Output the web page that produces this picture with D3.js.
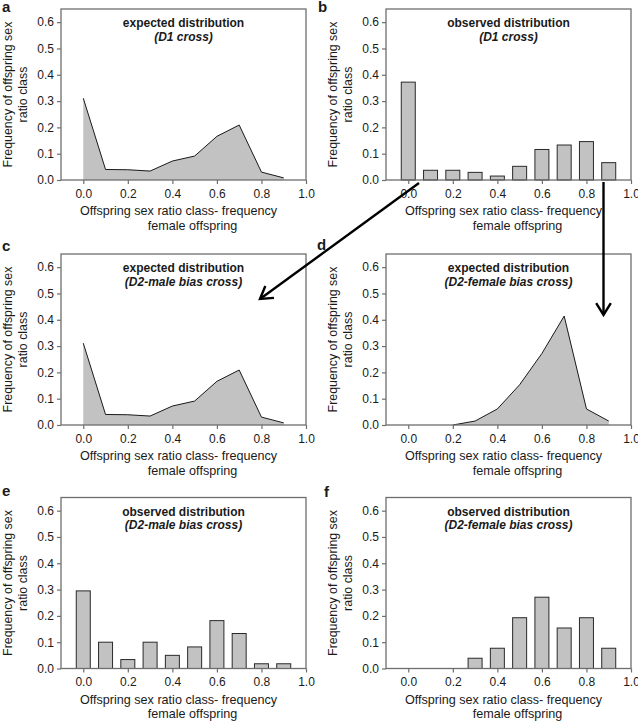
<!DOCTYPE html>
<html>
<head>
<meta charset="utf-8">
<script src="https://cdn.jsdelivr.net/npm/d3@7"></script>
<style>
  body { margin: 0; background: white; }
  text { font-family: "Liberation Sans", Arial, sans-serif; fill: #1a1a1a; }
</style>
</head>
<body>
<script>

// sex ratio classes (frequency of female offspring)
const classes = [0.0, 0.1, 0.2, 0.3, 0.4, 0.5, 0.6, 0.7, 0.8, 0.9];

// a - expected, D1 cross
const expD1 = [0.311, 0.040, 0.039, 0.034, 0.072, 0.091, 0.166, 0.209, 0.030, 0.008];
// b - observed, D1 cross
const obsD1 = [0.372, 0.037, 0.037, 0.029, 0.015, 0.052, 0.116, 0.133, 0.146, 0.066];
// c - expected, D2 male bias cross
const expD2male = [0.311, 0.040, 0.039, 0.034, 0.072, 0.091, 0.166, 0.209, 0.030, 0.008];
// d - expected, D2 female bias cross (nothing below 0.2)
const expD2female = [null, null, 0.0, 0.015, 0.061, 0.153, 0.272, 0.414, 0.061, 0.015];
// e - observed, D2 male bias cross
const obsD2male = [0.295, 0.100, 0.034, 0.100, 0.050, 0.082, 0.182, 0.133, 0.018, 0.018];
// f - observed, D2 female bias cross
const obsD2female = [0, 0, 0, 0.039, 0.077, 0.193, 0.271, 0.154, 0.193, 0.077];

const xTicks = [0.0, 0.2, 0.4, 0.6, 0.8, 1.0];
const yTicks = [0.0, 0.1, 0.2, 0.3, 0.4, 0.5, 0.6];

const xTitle = ["Offspring sex ratio class- frequency", "female offspring"];
const yTitle = ["Frequency of offspring sex", "ratio class"];

const W = 638, H = 721;
const pw = 245, ph = 171;   // plot frame size

const svg = d3.select("body").append("svg").attr("width", W).attr("height", H);

const x = d3.scaleLinear().domain([-0.1, 1.0]).range([0, pw]);
const y = d3.scaleLinear().domain([0, 0.65]).range([ph, 0]);

const panels = [
  {letter: "a", lx: 2,   ly: 11.5, fx: 61,  fy: 9,     kind: "area", vals: expD1,       t1: "expected distribution", t2: "(D1 cross)"},
  {letter: "b", lx: 318, ly: 11.5, fx: 386, fy: 9,     kind: "bar",  vals: obsD1,       t1: "observed distribution", t2: "(D1 cross)"},
  {letter: "c", lx: 2,   ly: 251,  fx: 61,  fy: 254,   kind: "area", vals: expD2male,   t1: "expected distribution", t2: "(D2-male bias cross)"},
  {letter: "d", lx: 317, ly: 250,  fx: 386, fy: 254,   kind: "area", vals: expD2female, t1: "expected distribution", t2: "(D2-female bias cross)"},
  {letter: "e", lx: 2,   ly: 496,  fx: 61,  fy: 497.5, kind: "bar",  vals: obsD2male,   t1: "observed distribution", t2: "(D2-male bias cross)"},
  {letter: "f", lx: 324, ly: 497,  fx: 386, fy: 497.5, kind: "bar",  vals: obsD2female, t1: "observed distribution", t2: "(D2-female bias cross)"}
];

panels.forEach(p => {
  const data = classes.map((c, i) => ({c: c, v: p.vals[i]}));

  svg.append("text")
    .attr("x", p.lx).attr("y", p.ly)
    .attr("font-size", 15).attr("font-weight", "bold")
    .text(p.letter);

  const g = svg.append("g").attr("transform", `translate(${p.fx},${p.fy})`);

  if (p.kind == "area") {
    const pts = data.filter(d => d.v != null);
    g.append("path")
      .datum(pts)
      .attr("fill", "#c2c2c2")
      .attr("d", d3.area().x(d => x(d.c)).y0(y(0)).y1(d => y(d.v)));
    g.append("path")
      .datum(pts)
      .attr("fill", "none")
      .attr("stroke", "#1a1a1a")
      .attr("stroke-width", 1)
      .attr("d", d3.line().x(d => x(d.c)).y(d => y(d.v)));
  } else {
    const bw = 14;
    g.selectAll("rect.bar")
      .data(data.filter(d => d.v > 0))
      .enter().append("rect")
      .attr("class", "bar")
      .attr("x", d => x(d.c) - bw / 2)
      .attr("y", d => y(d.v))
      .attr("width", bw)
      .attr("height", d => y(0) - y(d.v))
      .attr("fill", "#c2c2c2")
      .attr("stroke", "#2a2a2a")
      .attr("stroke-width", 1);
  }

  // frame
  g.append("rect")
    .attr("width", pw).attr("height", ph)
    .attr("fill", "none")
    .attr("stroke", "#6e6e6e")
    .attr("stroke-width", 1.3);

  // axes
  const ya = g.append("g")
    .call(d3.axisLeft(y).tickValues(yTicks).tickSize(4).tickPadding(3).tickFormat(d3.format(".1f")));
  const xa = g.append("g")
    .attr("transform", `translate(0,${ph})`)
    .call(d3.axisBottom(x).tickValues(xTicks).tickSize(4).tickPadding(5).tickFormat(d3.format(".1f")));
  [ya, xa].forEach(a => {
    a.select(".domain").remove();
    a.selectAll(".tick line").attr("stroke", "#6e6e6e").attr("stroke-width", 1.2);
    a.selectAll(".tick text").attr("font-size", 12).attr("fill", "#222")
      .attr("font-family", '"Liberation Sans", Arial, sans-serif');
  });

  // axis titles
  g.append("text")
    .attr("x", pw / 2 - 5).attr("y", ph + 35)
    .attr("text-anchor", "middle").attr("font-size", 12.6)
    .text(xTitle[0]);
  g.append("text")
    .attr("x", pw / 2 + 9).attr("y", ph + 49.5)
    .attr("text-anchor", "middle").attr("font-size", 12.6)
    .text(xTitle[1]);

  yTitle.forEach((t, i) => {
    g.append("text")
      .attr("transform", `translate(${i == 0 ? -49.5 : -34},${ph / 2}) rotate(-90)`)
      .attr("text-anchor", "middle").attr("font-size", 12.4)
      .text(t);
  });

  // panel title
  g.append("text")
    .attr("x", pw / 2).attr("y", 18)
    .attr("text-anchor", "middle").attr("font-size", 12).attr("font-weight", "bold")
    .text(p.t1);
  g.append("text")
    .attr("x", pw / 2).attr("y", 31.5)
    .attr("text-anchor", "middle").attr("font-size", 12).attr("font-weight", "bold")
    .attr("font-style", "italic")
    .text(p.t2);
});

// arrows from panel b down to c and d
function arrow(x1, y1, x2, y2) {
  const ang = Math.atan2(y2 - y1, x2 - x1);
  const len = 14, spread = 0.55;
  svg.append("line")
    .attr("x1", x1).attr("y1", y1).attr("x2", x2).attr("y2", y2)
    .attr("stroke", "black").attr("stroke-width", 2.4);
  svg.append("path")
    .attr("d", d3.line()([
      [x2 - len * Math.cos(ang - spread), y2 - len * Math.sin(ang - spread)],
      [x2, y2],
      [x2 - len * Math.cos(ang + spread), y2 - len * Math.sin(ang + spread)]
    ]))
    .attr("fill", "none").attr("stroke", "black").attr("stroke-width", 2.4)
    .attr("stroke-linejoin", "miter");
}
arrow(419, 183, 260, 299);
arrow(603.5, 182, 603.5, 315);

</script>
</body>
</html>
